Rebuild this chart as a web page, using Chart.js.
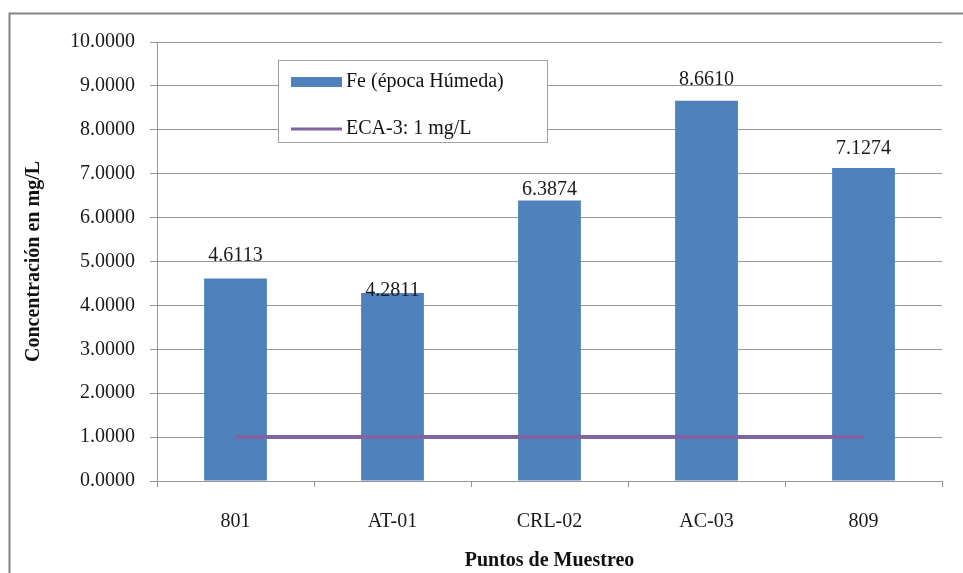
<!DOCTYPE html>
<html>
<head>
<meta charset="utf-8">
<script src="https://cdn.jsdelivr.net/npm/chart.js@4/dist/chart.umd.min.js"></script>
<style>
  html, body { margin: 0; padding: 0; background: #ffffff; }
  #wrap { width: 963px; height: 573px; position: relative; }
</style>
</head>
<body>
<div id="wrap"><canvas id="c" width="963" height="573"></canvas></div>
<script>
// ---- data ----
const categories = ['801', 'AT-01', 'CRL-02', 'AC-03', '809'];
const feValues = [4.6113, 4.2811, 6.3874, 8.6610, 7.1274];
const ecaValues = [1, 1, 1, 1, 1];
const seriesNames = ['Fe (época Húmeda)', 'ECA-3: 1 mg/L'];
const yTicks = [0, 1, 2, 3, 4, 5, 6, 7, 8, 9, 10];
const axisTitles = { x: 'Puntos de Muestreo', y: 'Concentración en mg/L' };

const SERIF = '"Liberation Serif", "Times New Roman", serif';
const BLUE = '#4F81BD';
const PURPLE = '#8064A2';
const GRID = '#969696';

const framePlugin = {
  id: 'frame',
  beforeDraw(chart) {
    const ctx = chart.ctx;
    ctx.save();
    ctx.fillStyle = '#ffffff';
    ctx.fillRect(0, 0, chart.width, chart.height);
    ctx.strokeStyle = '#858585';
    ctx.lineWidth = 2;
    ctx.beginPath();
    ctx.moveTo(9.5, chart.height + 5);
    ctx.lineTo(9.5, 13.5);
    ctx.lineTo(chart.width + 5, 13.5);
    ctx.stroke();
    ctx.restore();
  }
};

const barLabelPlugin = {
  id: 'barLabels',
  afterDatasetsDraw(chart, args, opts) {
    const ctx = chart.ctx;
    const meta = chart.getDatasetMeta(0);
    const ds = chart.data.datasets[0];
    ctx.save();
    ctx.font = '20px ' + SERIF;
    ctx.fillStyle = '#1a1a1a';
    ctx.textAlign = 'center';
    ctx.textBaseline = 'alphabetic';
    meta.data.forEach((bar, i) => {
      const gap = opts.gaps[i];
      ctx.fillText(ds.data[i].toFixed(4), bar.x, bar.y - gap);
    });
    ctx.restore();
  }
};

const legendPlugin = {
  id: 'boxLegend',
  afterDraw(chart, args, opts) {
    const ctx = chart.ctx;
    const { x, y, w, h } = opts.box;
    ctx.save();
    ctx.fillStyle = '#ffffff';
    ctx.fillRect(x, y, w, h);
    ctx.strokeStyle = '#a0a0a0';
    ctx.lineWidth = 1;
    ctx.strokeRect(x + 0.5, y + 0.5, w, h);
    const ds = chart.data.datasets;
    // entry 1: bar swatch
    ctx.fillStyle = ds[0].backgroundColor;
    ctx.fillRect(x + 13, y + 17, 51, 10);
    // entry 2: line swatch
    ctx.strokeStyle = ds[1].borderColor;
    ctx.lineWidth = 3;
    ctx.beginPath();
    ctx.moveTo(x + 13, y + 69);
    ctx.lineTo(x + 64, y + 69);
    ctx.stroke();
    ctx.font = '20px ' + SERIF;
    ctx.fillStyle = '#111111';
    ctx.textAlign = 'left';
    ctx.textBaseline = 'middle';
    ctx.fillText(ds[0].label, x + 68, y + 22);
    ctx.fillText(ds[1].label, x + 68, y + 69);
    ctx.restore();
  }
};

new Chart(document.getElementById('c'), {
  data: {
    labels: categories,
    datasets: [
      {
        type: 'bar',
        label: seriesNames[0],
        data: feValues,
        backgroundColor: BLUE,
        borderWidth: 0,
        categoryPercentage: 1,
        barPercentage: 0.40,
        order: 1
      },
      {
        type: 'line',
        label: seriesNames[1],
        data: ecaValues,
        borderColor: PURPLE,
        backgroundColor: PURPLE,
        borderWidth: 4,
        pointRadius: 0,
        fill: false,
        order: 0
      }
    ]
  },
  options: {
    responsive: false,
    animation: false,
    devicePixelRatio: 1,
    layout: { padding: { left: 10, top: 42, right: 21, bottom: 0 } },
    plugins: {
      legend: { display: false },
      tooltip: { enabled: false },
      barLabels: { gaps: [18, -3, 6, 16, 14] },
      boxLegend: { box: { x: 278, y: 60, w: 269, h: 82 } }
    },
    scales: {
      x: {
        offset: true,
        grid: {
          offset: true,
          drawOnChartArea: false,
          drawTicks: true,
          tickLength: 6,
          color: GRID
        },
        border: { display: true, color: GRID, width: 1 },
        ticks: {
          font: { family: SERIF, size: 20 },
          color: '#1a1a1a',
          padding: 23,
          maxRotation: 0
        },
        title: {
          display: true,
          text: axisTitles.x,
          font: { family: SERIF, size: 20, weight: 'bold' },
          color: '#111111',
          padding: { top: 0, bottom: 0 }
        },
        afterFit(scale) { scale.height = 92; }
      },
      y: {
        min: 0,
        max: 10,
        afterBuildTicks(scale) { scale.ticks = yTicks.map(v => ({ value: v })); },
        grid: {
          color: GRID,
          drawTicks: true,
          tickLength: 7
        },
        border: { display: true, color: GRID, width: 1 },
        ticks: {
          font: { family: SERIF, size: 20 },
          color: '#1a1a1a',
          padding: 15,
          callback: v => Number(v).toFixed(4)
        },
        title: {
          display: true,
          text: axisTitles.y,
          font: { family: SERIF, size: 20, weight: 'bold' },
          color: '#111111',
          padding: { top: 12, bottom: 0 }
        },
        afterFit(scale) { scale.width = 147; }
      }
    }
  },
  plugins: [framePlugin, barLabelPlugin, legendPlugin]
});
</script>
</body>
</html>
